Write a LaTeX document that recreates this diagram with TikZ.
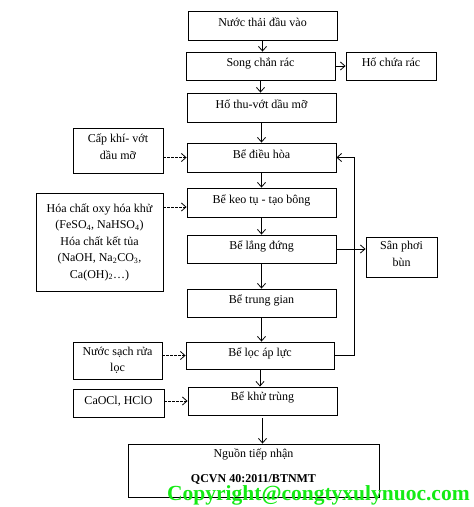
\documentclass[tikz,border=0pt]{standalone}
\usepackage{fontspec}
\setmainfont{Liberation Serif}
\usetikzlibrary{arrows.meta}
\definecolor{wmgreen}{RGB}{20,235,20}
\tikzset{
  box/.style={draw, line width=0.9pt, inner sep=0pt, align=center,
    font=\fontsize{12}{16.5}\selectfont},
  flow/.style={draw, line width=0.8pt, -{Straight Barb[length=4.5pt,width=8pt]}},
  feed/.style={flow, dash pattern=on 2.5pt off 1.5pt},
}
\begin{document}
\begin{tikzpicture}[x=1pt,y=1pt]
\useasboundingbox[fill=white] (0,0) rectangle (474,-507);
% main column
\node[box, minimum width=149pt, minimum height=29pt, text height=8pt, text depth=7pt] (n1) at (262.5,-25.5) {Nước thải đầu vào};
\node[box, minimum width=149pt, minimum height=28pt, text height=8pt, text depth=7pt] (n2) at (260.5,-66) {Song chắn rác};
\node[box, minimum width=90pt, minimum height=28pt, text height=8pt, text depth=7pt] (n2r) at (391,-66) {Hố chứa rác};
\node[box, minimum width=149pt, minimum height=29pt, text height=8pt, text depth=7pt] (n3) at (261.5,-107.5) {Hố thu-vớt dầu mỡ};
\node[box, minimum width=149pt, minimum height=29pt, text height=8pt, text depth=7pt] (n4) at (261.5,-157.5) {Bể điều hòa};
\node[box, minimum width=149pt, minimum height=29pt, text height=8pt, text depth=7pt] (n5) at (261.5,-202.5) {Bể keo tụ - tạo bông};
\node[box, minimum width=149pt, minimum height=28pt, text height=8pt, text depth=7pt] (n6) at (261.5,-249) {Bể lắng đứng};
\node[box, minimum width=149pt, minimum height=28pt, text height=8pt, text depth=7pt] (n7) at (261.5,-303) {Bể trung gian};
\node[box, minimum width=148pt, minimum height=27pt, text height=8pt, text depth=7pt] (n8) at (260,-355.5) {Bể lọc áp lực};
\node[box, minimum width=149pt, minimum height=28pt, text height=8pt, text depth=10pt] (n9) at (262.5,-401) {Bể khử trùng};
\node[box, minimum width=251pt, minimum height=53pt, text depth=10pt] (n10) at (253.5,-470.5) {Nguồn tiếp nhận\\[9pt]\textbf{QCVN 40:2011/BTNMT}};
% side inputs
\node[box, minimum width=90pt, minimum height=45pt, text depth=8pt] (c1) at (118,-150.5) {Cấp khí- vớt\\dầu mỡ};
\node[box, minimum width=127pt, minimum height=98pt] (c2) at (99.5,-242) {Hóa chất oxy hóa khử\\(FeSO\textsubscript{4}, NaHSO\textsubscript{4})\\Hóa chất kết tủa\\(NaOH, Na\textsubscript{2}CO\textsubscript{3},\\Ca(OH)\textsubscript{2}…)};
\node[box, minimum width=71pt, minimum height=40pt, text depth=6pt] (s) at (401.5,-257) {Sân phơi\\bùn};
\node[box, minimum width=89pt, minimum height=37pt] (c3) at (117.5,-360.5) {Nước sạch rửa\\lọc};
\node[box, minimum width=91pt, minimum height=28pt, text height=8pt, text depth=5pt] (c4) at (118.5,-403) {CaOCl, HClO};
\coordinate (rx) at (354,0);
% main flow
\draw[flow] (n1.south) -- (n1.south |- n2.north);
\draw[flow] (n2.east) -- (n2r.west);
\draw[flow] (n2.south) -- (n2.south |- n3.north);
\draw[flow] (n3.south) -- (n3.south |- n4.north);
\draw[flow] (n4.south) -- (n4.south |- n5.north);
\draw[flow] (n5.south) -- (n5.south |- n6.north);
\draw[flow] (n6.east) -- (n6.east -| s.west);
\draw[flow] (n6.south) -- (n6.south |- n7.north);
\draw[flow] (n7.south) -- (n7.south |- n8.north);
\draw[flow] (n8.south) -- (n8.south |- n9.north);
\draw[flow] (n9.south) ++(0,-3) -- (n9.south |- n10.north);
\draw[flow] (n8.east) -- (n8.east -| rx) |- (n4.east);
% dashed feeds
\draw[feed] (c1.east |- n4.west) -- (n4.west);
\draw[feed] (c2.east |- 0,-207) -- (n5.west |- 0,-207);
\draw[feed] (c3.east |- n8.west) -- (n8.west);
\draw[feed] (c4.east |- n9.west) -- (n9.west);
% watermark
\node[anchor=west, inner sep=0pt, text=wmgreen, font=\fontsize{21.5}{22}\selectfont\bfseries] (wm) at (167,-495) {Copyright@congtyxulynuoc.com};
\end{tikzpicture}
\end{document}
